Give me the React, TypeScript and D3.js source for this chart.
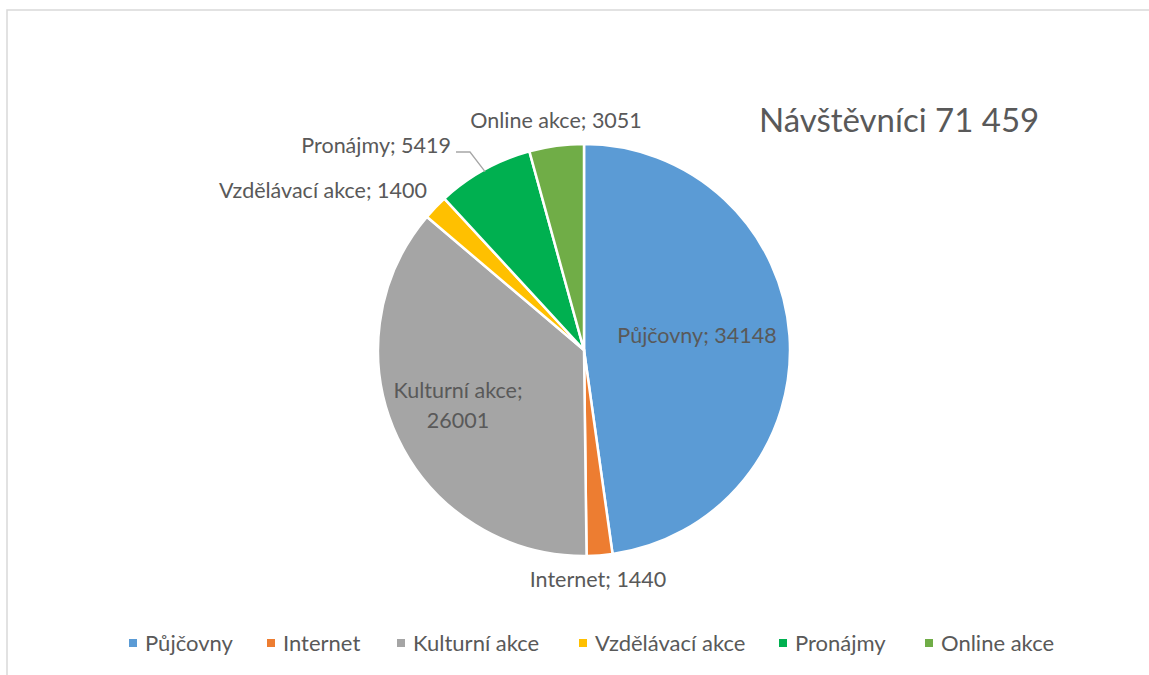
import React from "react";
import * as d3 from "d3";

const categories = ["Půjčovny", "Internet", "Kulturní akce", "Vzdělávací akce", "Pronájmy", "Online akce"];
const values = [34148, 1440, 26001, 1400, 5419, 3051];
const colors = ["#5B9BD5", "#ED7D31", "#A5A5A5", "#FFC000", "#00B050", "#70AD47"];
const title = "Návštěvníci 71 459";

const W = 1149, H = 675;
const cx = 584, cy = 350, R = 206;
const FONT = "Lato, 'Open Sans', sans-serif";
const TXT = "#595959";
const LF = 21.5;

// label placement (baseline) relative to pie center, tuned to the reference layout
const labelPos: Record<string, { dx: number; dy: number; anchor: string; lines?: number }> = {
  "Půjčovny": { dx: 113, dy: -7, anchor: "middle" },
  "Internet": { dx: 14, dy: 237, anchor: "middle" },
  "Kulturní akce": { dx: -126, dy: 48, anchor: "middle", lines: 2 },
  "Vzdělávací akce": { dx: -157, dy: -152, anchor: "end" },
  "Pronájmy": { dx: -133, dy: -197, anchor: "end" },
  "Online akce": { dx: -28, dy: -222, anchor: "middle" },
};

export default function App() {
  const pie = d3.pie<number>().sort(null).startAngle(0).endAngle(2 * Math.PI);
  const arcs = pie(values);
  const arc = d3.arc<d3.PieArcDatum<number>>().innerRadius(0).outerRadius(R);
  const edge = d3.arc<d3.PieArcDatum<number>>().innerRadius(R * 0.99).outerRadius(R * 0.99);
  const legendX = [129, 267, 397, 579, 779, 925];

  const pron = arcs[4];
  const pEdge = edge.centroid(pron);
  const pl = labelPos["Pronájmy"];

  return (
    <svg width={W} height={H} style={{ position: "absolute", left: 0, top: 0 }}>
      <rect x={0} y={0} width={W} height={H} fill="#fff" />
      <rect x={7} y={10} width={W + 10} height={H + 10} fill="none" stroke="#D9D9D9" strokeWidth={1.5} />
      <text x={759} y={132} fontFamily={FONT} fontSize={33} fill={TXT}>{title}</text>
      <g transform={`translate(${cx},${cy})`}>
        {arcs.map((a, i) => (
          <path key={i} d={arc(a) || ""} fill={colors[i]} stroke="#fff" strokeWidth={2.5} strokeLinejoin="round" />
        ))}
        <polyline
          points={`${pl.dx + 5},${pl.dy - 1} ${pl.dx + 19},${pl.dy - 1} ${pEdge[0]},${pEdge[1]}`}
          fill="none" stroke="#A6A6A6" strokeWidth={1.3}
        />
        {arcs.map((a, i) => {
          const c = categories[i];
          const p = labelPos[c];
          if (p.lines === 2) {
            return (
              <text key={c} textAnchor={p.anchor as any} fontFamily={FONT} fontSize={LF} fill={TXT}>
                <tspan x={p.dx} y={p.dy}>{c};</tspan>
                <tspan x={p.dx} y={p.dy + 30}>{values[i]}</tspan>
              </text>
            );
          }
          return (
            <text key={c} x={p.dx} y={p.dy} textAnchor={p.anchor as any} fontFamily={FONT} fontSize={LF} fill={TXT}>
              {c}; {values[i]}
            </text>
          );
        })}
      </g>
      {categories.map((c, i) => (
        <g key={c}>
          <rect x={legendX[i]} y={639} width={8} height={8} fill={colors[i]} />
          <text x={legendX[i] + 16} y={651} fontFamily={FONT} fontSize={22} fill={TXT}>{c}</text>
        </g>
      ))}
    </svg>
  );
}
